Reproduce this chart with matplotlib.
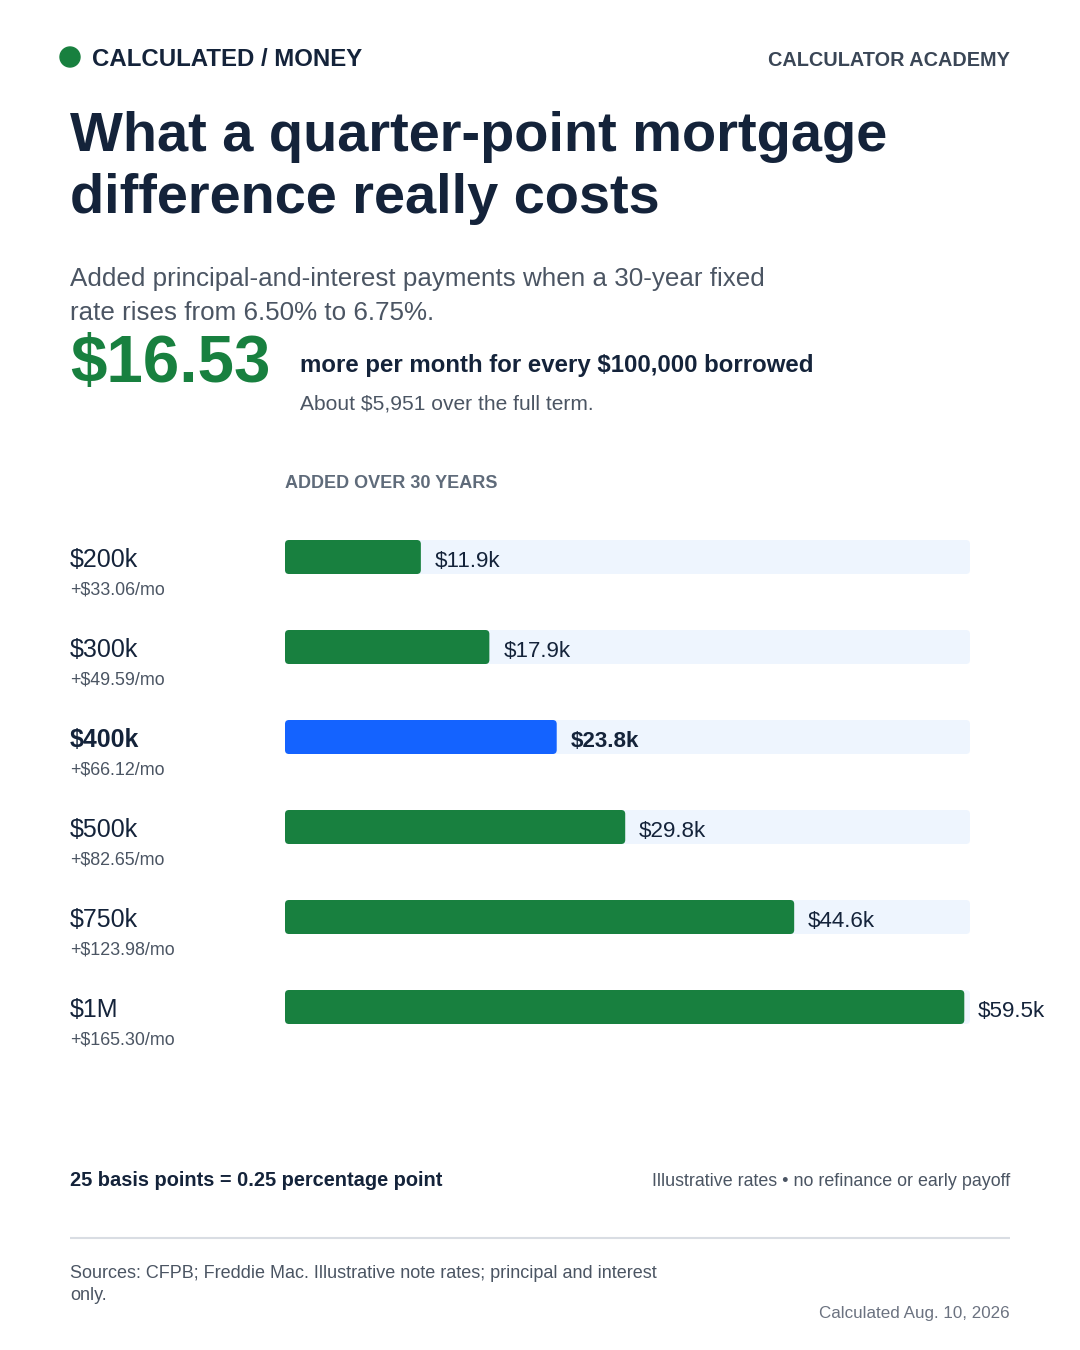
import matplotlib
matplotlib.use('Agg')
import matplotlib.pyplot as plt
from matplotlib.patches import FancyBboxPatch, Circle

plt.rcParams['font.family'] = ['Liberation Sans', 'DejaVu Sans']

# data
loans = ['$200k', '$300k', '$400k', '$500k', '$750k', '$1M']
monthly = ['+$33.06/mo', '+$49.59/mo', '+$66.12/mo', '+$82.65/mo', '+$123.98/mo', '+$165.30/mo']
added_k = [11.9, 17.9, 23.8, 29.8, 44.6, 59.5]
highlight = '$400k'
axis_max = 60

navy = '#14233a'
gray = '#4b5563'
green = '#18803f'
blue = '#1463ff'
track = '#eef5fe'

W, H = 1080, 1350
fig = plt.figure(figsize=(W / 100, H / 100), dpi=100)
fig.patch.set_facecolor('white')

# overlay in pixel coords for text
ov = fig.add_axes([0, 0, 1, 1])
ov.set_xlim(0, W)
ov.set_ylim(H, 0)
ov.axis('off')

ov.add_patch(Circle((70, 57), 10, color=green))
ov.text(92, 66, 'CALCULATED / MONEY', fontsize=17.3, fontweight='bold', color=navy, va='baseline')
ov.text(1010, 66, 'CALCULATOR ACADEMY', fontsize=14.3, fontweight='bold', color='#3a4656', va='baseline', ha='right')

ov.text(70, 151, 'What a quarter-point mortgage', fontsize=40.3, fontweight='bold', color=navy, va='baseline')
ov.text(70, 213, 'difference really costs', fontsize=40.3, fontweight='bold', color=navy, va='baseline')

ov.text(70, 286, 'Added principal-and-interest payments when a 30-year fixed', fontsize=18.7, color=gray, va='baseline')
ov.text(70, 320, 'rate rises from 6.50% to 6.75%.', fontsize=18.7, color=gray, va='baseline')

ov.text(70, 382, '$16.53', fontsize=47.2, fontweight='bold', color=green, va='baseline')
ov.text(300, 372, 'more per month for every $100,000 borrowed', fontsize=17.3, fontweight='bold', color=navy, va='baseline')
ov.text(300, 410, 'About $5,951 over the full term.', fontsize=15.1, color=gray, va='baseline')

ov.text(285, 488, 'ADDED OVER 30 YEARS', fontsize=13, fontweight='bold', color='#5f6b7a', va='baseline')

row_top = 512
row_h = 90
for i, (lab, mo) in enumerate(zip(loans, monthly)):
    y = row_top + 45 + i * row_h
    bold = 'bold' if lab == highlight else 'normal'
    ov.text(70, y + 10, lab, fontsize=18, fontweight=bold, color=navy, va='baseline')
    ov.text(70, y + 38, mo, fontsize=12.9, color=gray, va='baseline')

ov.text(70, 1186, '25 basis points = 0.25 percentage point', fontsize=14.4, fontweight='bold', color=navy, va='baseline')
ov.text(1010, 1186, 'Illustrative rates \u2022 no refinance or early payoff', fontsize=12.9, color=gray, va='baseline', ha='right')
ov.plot([70, 1010], [1238, 1238], color='#d9dde3', lw=1.5, solid_capstyle='butt')
ov.text(70, 1278, 'Sources: CFPB; Freddie Mac. Illustrative note rates; principal and interest', fontsize=12.95, color=gray, va='baseline')
ov.text(70, 1300, 'only.', fontsize=12.95, color=gray, va='baseline')
ov.text(1010, 1318, 'Calculated Aug. 10, 2026', fontsize=12.25, color='#6b7280', va='baseline', ha='right')

# bar axes
n = len(loans)
ax = fig.add_axes([285 / W, (H - (row_top + n * row_h)) / H, 685 / W, n * row_h / H])
ax.set_xlim(0, axis_max)
ax.set_ylim(n - 0.5, -0.5)
ax.axis('off')

bh = 34 / row_h
rad = 4 * axis_max / 685
asp = (4 / row_h) / rad
for i, (lab, v) in enumerate(zip(loans, added_k)):
    ax.add_patch(FancyBboxPatch((0, i - bh / 2), axis_max, bh, boxstyle=f'round,pad=0,rounding_size={rad}',
                                mutation_aspect=asp, fc=track, ec='none'))
    c = blue if lab == highlight else green
    ax.add_patch(FancyBboxPatch((0, i - bh / 2), v, bh, boxstyle=f'round,pad=0,rounding_size={rad}',
                                mutation_aspect=asp, fc=c, ec='none'))
    ax.annotate(f'${v:.1f}k', (v, i), xytext=(10, -7.2), textcoords='offset points', va='baseline',
                fontsize=16.1, fontweight='bold' if lab == highlight else 'normal', color=navy,
                annotation_clip=False)

fig.savefig('out.png', dpi=100, facecolor='white')
